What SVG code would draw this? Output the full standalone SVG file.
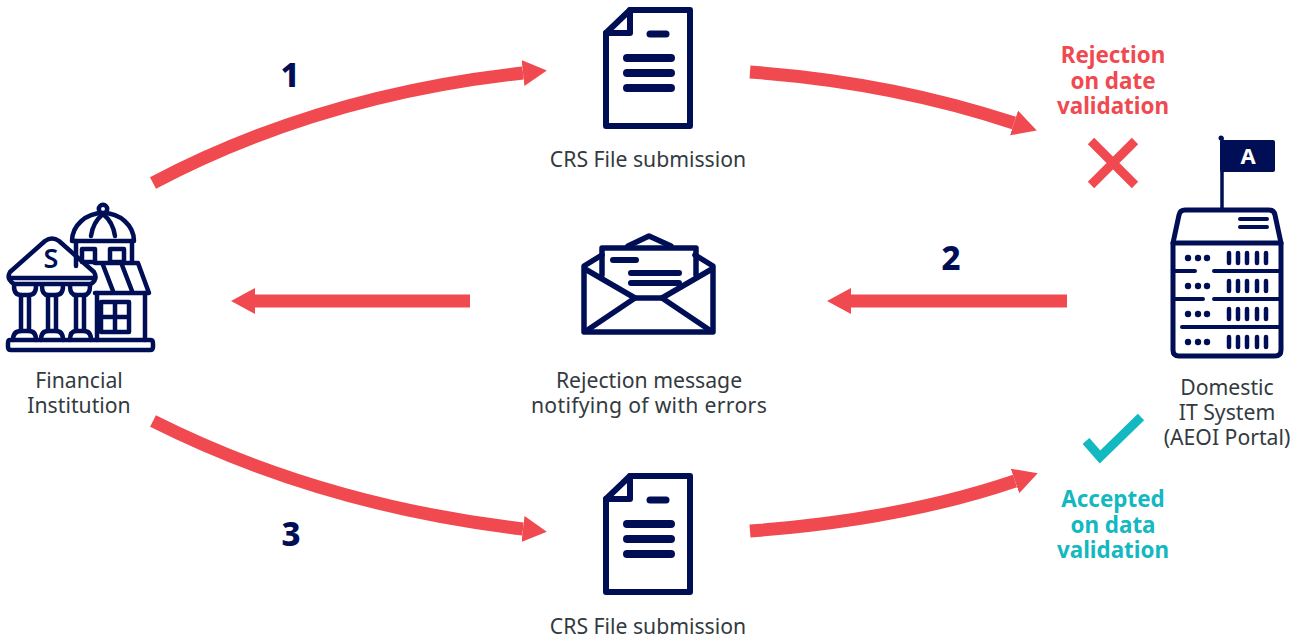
<svg xmlns="http://www.w3.org/2000/svg" width="1303" height="638" viewBox="0 0 1303 638">
<style>
text{font-family:"Noto Sans","Open Sans",sans-serif;text-anchor:middle}
.lbl{font-size:21.2px;fill:#333a40}
.num{font-size:33px;font-weight:800;fill:#000f55}
.red{font-size:22.4px;font-weight:700;fill:#f04a50}
.teal{font-size:22.4px;font-weight:700;fill:#14b8c0}
.ic{fill:none;stroke:#000f55;stroke-width:5.5;stroke-linejoin:round;stroke-linecap:round}
.bk{stroke-width:4.5}
.arrow{fill:none;stroke:#f04a50;stroke-width:13;marker-end:url(#head)}
</style>
<defs>
<marker id="head" markerUnits="userSpaceOnUse" markerWidth="24" markerHeight="26" refX="0" refY="13" orient="auto"><path d="M0,0L24,13L0,26Z" fill="#f04a50"/></marker>
<g id="docicon">
<path class="ic" style="stroke-width:6" d="M606,33L630,10H690V126H606Z"/>
<path class="ic" style="stroke-width:6" d="M606,33H630V10"/>
<path class="ic" style="stroke-width:7" d="M650,34H666"/>
<path class="ic" style="stroke-width:8" d="M627,58H671M627,73H671M627,88H671"/>
</g>
<g id="rowicons">
<circle cx="1188" cy="0" r="3.2" fill="#000f55"/><circle cx="1198" cy="0" r="3.2" fill="#000f55"/><circle cx="1207" cy="0" r="3.2" fill="#000f55"/>
<path class="ic" style="stroke-width:4.5" d="M1229,-5V5M1238,-5V5M1247,-5V5M1257,-5V5M1266,-5V5"/>
</g>
</defs>
<g id="connectors">
<path class="arrow" d="M153,183Q320,95 523,73"/>
<path class="arrow" d="M750,72Q890,82 1014,123"/>
<path class="arrow" d="M1067,301H851"/>
<path class="arrow" d="M470,301H255"/>
<path class="arrow" d="M153,421Q320,505 523,529"/>
<path class="arrow" d="M750,531Q900,520 1015,481"/>
</g>
<g id="step-numbers">
<text class="num" x="290" y="87">1</text>
<text class="num" x="951" y="270">2</text>
<text class="num" x="291" y="546">3</text>
</g>
<g id="financial-institution">
<path class="ic bk" d="M10,340H151Q153,340 153,344V347Q153,350 150,350H11Q8,350 8,347V343Q8,340 10,340Z"/>
<path class="ic bk" d="M45,241Q52,236 59,241L94,272Q98,279 91,284H14Q6,279 10,272Z"/>
<path class="ic bk" d="M10,278H95"/>
<text x="51" y="268" style="font-size:27px;font-weight:600;fill:#000f55">S</text>
<path class="ic bk" d="M14,286Q14,295 21,295H29Q36,295 36,286M42,286Q42,295 48,295H56Q63,295 63,286M70,286Q70,295 76,295H84Q90,295 90,286"/>
<path class="ic bk" d="M21,295V331M29,295V331M48,295V331M56,295V331M76,295V331M84,295V331"/>
<path class="ic bk" d="M13,340Q13,331 21,331H29Q36,331 36,340M41,340Q41,331 48,331H56Q63,331 63,340M70,340Q70,331 76,331H84Q91,331 91,340"/>
<path class="ic bk" d="M72,241A31,28 0 0 1 134,241Z"/>
<circle class="ic bk" cx="103" cy="209" r="4.2"/>
<path class="ic bk" d="M91,236Q93,222 103,214Q113,222 115,236"/>
<path class="ic bk" d="M76,241V266M132,241V263"/>
<path class="ic bk" d="M82,249H95V262H82ZM110,249H124V262H110Z"/>
<path class="ic bk" d="M95,263H138L149,293H95"/>
<path class="ic bk" d="M103,265L113,291M122,265L132,291"/>
<path class="ic bk" d="M97,293V340M145,293V340"/>
<path class="ic bk" d="M101,302H129V332H101ZM115,302V332M101,317H129"/>
<text class="lbl" y="388"><tspan x="79">Financial</tspan><tspan x="79" y="413">Institution</tspan></text>
</g>
<g id="crs-file-top">
<use href="#docicon"/>
<text class="lbl" x="648" y="167">CRS File submission</text>
</g>
<g id="rejection-message">
<path class="ic" d="M602,255L584,266V332H713V266L695,255"/>
<path class="ic" d="M628,246L649,236L671,246"/>
<path class="ic" d="M602,275V248H696V275"/>
<path class="ic" d="M585,269L635,298H662L712,269"/>
<path class="ic" d="M635,298L586,331M662,298L711,331"/>
<path class="ic" style="stroke-width:6" d="M613,260H636M631,273H679M631,283H679"/>
<text class="lbl" y="388"><tspan x="649">Rejection message</tspan><tspan x="649" y="413" letter-spacing="0.3">notifying of with errors</tspan></text>
</g>
<g id="rejection-status">
<text class="red" y="62.5"><tspan x="1113">Rejection</tspan><tspan x="1113" y="88.5">on date</tspan><tspan x="1113" y="113.5">validation</tspan></text>
<path d="M1091,141L1135,185M1135,141L1091,185" fill="none" stroke="#f04a50" stroke-width="9"/>
</g>
<g id="domestic-it-system">
<circle cx="1221" cy="138" r="2.5" fill="#000f55"/>
<path class="ic" style="stroke-width:3.5" d="M1222,138V209"/>
<rect x="1220" y="140" width="55" height="32" rx="2" fill="#000f55"/>
<text x="1248" y="164" style="font-size:22px;font-weight:700;fill:#fff">A</text>
<path class="ic" style="stroke-width:5" d="M1173,243L1179,215Q1180,210 1185,210H1269Q1274,210 1275,215L1281,243V350Q1281,356 1275,356H1179Q1173,356 1173,350Z"/>
<path class="ic" style="stroke-width:5" d="M1173,243H1281"/>
<path class="ic" style="stroke-width:4" d="M1240,219H1267M1240,227H1267"/>
<path class="ic" style="stroke-width:4" d="M1175,271H1195M1214,271H1279M1175,299H1203M1214,299H1279M1182,327H1279"/>
<use href="#rowicons" y="258"/><use href="#rowicons" y="286"/><use href="#rowicons" y="314"/><use href="#rowicons" y="342"/>
<text class="lbl" y="395"><tspan x="1227">Domestic</tspan><tspan x="1227" y="420">IT System</tspan><tspan x="1227" y="445">(AEOI Portal)</tspan></text>
</g>
<g id="accepted-status">
<path d="M1086,441L1100,457L1141,417" fill="none" stroke="#14b8c0" stroke-width="9"/>
<text class="teal" y="506.5"><tspan x="1113">Accepted</tspan><tspan x="1113" y="532.5">on data</tspan><tspan x="1113" y="557.5">validation</tspan></text>
</g>
<g id="crs-file-bottom">
<use href="#docicon" y="466"/>
<text class="lbl" x="648" y="634">CRS File submission</text>
</g>
</svg>
